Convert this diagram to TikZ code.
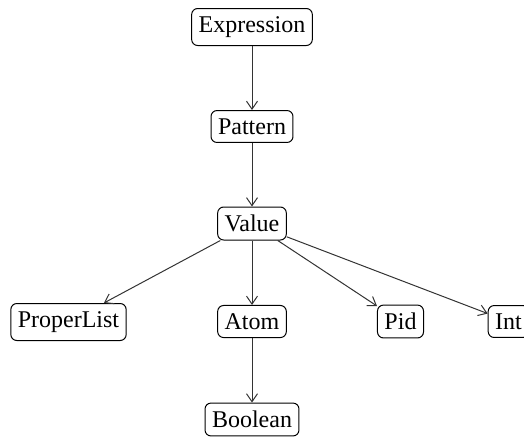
\documentclass[tikz,border=0pt]{standalone}
\usepackage{fontspec}
\setmainfont{Liberation Serif}
\usetikzlibrary{arrows.meta}
\begin{document}
\begin{tikzpicture}[x=0.5pt,y=-0.5pt,
  box/.style={draw=black,line width=0.5pt,rounded corners=3pt,inner xsep=3.5pt,inner ysep=4pt,font=\fontsize{12}{14}\selectfont},
  edge/.style={draw=black!80,line width=0.5pt,-{Straight Barb[length=4pt,width=5.5pt]}}]
\useasboundingbox (0,0) rectangle (524,436);
\node[box] (Expression) at (252,27) {Expression};
\node[box] (Pattern) at (252,126.5) {Pattern};
\node[box] (Value) at (252,223.5) {Value};
\node[box] (ProperList) at (68.5,322) {ProperList};
\node[box] (Atom) at (252,321.5) {Atom};
\node[box] (Pid) at (400.5,321.5) {Pid};
\node[box] (Int) at (508.5,321.5) {Int};
\node[box] (Boolean) at (252,419.5) {Boolean};
\draw[edge] (Expression) -- (Pattern);
\draw[edge] (Pattern) -- (Value);
\draw[edge] (Value) -- (ProperList);
\draw[edge] (Value) -- (Atom);
\draw[edge] (Value) -- (Pid);
\draw[edge] (Value) -- (Int);
\draw[edge] (Atom) -- (Boolean);
\end{tikzpicture}
\end{document}
